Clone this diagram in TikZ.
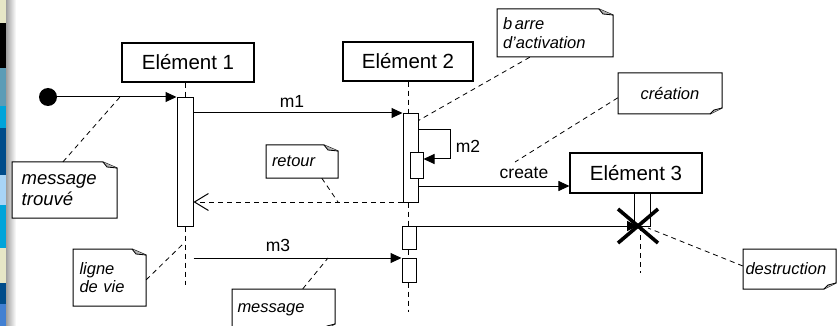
\documentclass[tikz,border=0pt]{standalone}
\usepackage{fontspec}
\setmainfont{Liberation Sans}
\usetikzlibrary{arrows.meta}
\definecolor{bbeige}{HTML}{E6E6C6}
\definecolor{bsteel}{HTML}{5C9CB6}
\definecolor{bcyan}{HTML}{00A4DA}
\definecolor{bdark}{HTML}{004C8A}
\definecolor{blight}{HTML}{A8D4F6}
\definecolor{bblue}{HTML}{4280D2}
\tikzset{
  elem/.style={draw, line width=1.1pt, fill=white, minimum width=#1, minimum height=39pt, inner sep=0pt, font=\fontsize{20.5}{22}\selectfont},
  bar/.style={draw, line width=1pt, fill=white, inner sep=0pt},
  life/.style={dashed, dash pattern=on 5pt off 4pt, line width=0.9pt},
  msg/.style={line width=1pt, -{Triangle[length=11pt,width=10pt]}},
  ret/.style={line width=0.9pt, dash pattern=on 5pt off 4pt, -{Straight Barb[length=14pt,width=17pt,line width=1pt]}},
  lbl/.style={font=\fontsize{17.5}{19}\selectfont, inner sep=0pt},
  note/.style={inner sep=0pt, font=\fontsize{16.5}{18.5}\selectfont\itshape, align=left},
  noteline/.style={dashed, dash pattern=on 5pt off 4pt, line width=0.8pt},
  notebox/.style={line width=1pt, fill=white},
  cross/.style={line width=3.6pt}
}
\newcommand{\notetr}[4]{% x1 y1 x2 y2, fold top right
  \filldraw[notebox] (#1,#2) -- (#3-14,#2) -- (#3,#2+6) -- (#3,#4) -- (#1,#4) -- cycle;
  \fill[gray!60] (#3-14,#2) -- (#3-10,#2+5) -- (#3,#2+6) -- cycle;
  \draw[line width=0.8pt] (#3-14,#2) -- (#3-10,#2+5) -- (#3,#2+6);}
\newcommand{\notebr}[4]{% fold bottom right
  \filldraw[notebox] (#1,#2) -- (#3,#2) -- (#3,#4-6) -- (#3-12,#4) -- (#1,#4) -- cycle;
  \fill[gray!60] (#3,#4-6) -- (#3-8,#4-4) -- (#3-12,#4) -- cycle;
  \draw[line width=0.8pt] (#3,#4-6) -- (#3-8,#4-4) -- (#3-12,#4);}
\begin{document}
\begin{tikzpicture}[x=1pt,y=-1pt]
\useasboundingbox (0,0) rectangle (838,326);
\clip (0,0) rectangle (838,326);
\fill[white] (0,0) rectangle (838,326);
% left slide strip
\fill[bbeige] (0,0) rectangle (6,23);
\fill[black] (0,23) rectangle (6,68);
\fill[bsteel] (0,68) rectangle (6,106);
\fill[bcyan] (0,106) rectangle (6,128);
\fill[bdark] (0,128) rectangle (6,175);
\fill[blight] (0,175) rectangle (6,205);
\fill[bcyan] (0,205) rectangle (6,248);
\fill[bbeige] (0,248) rectangle (6,283);
\fill[bdark] (0,283) rectangle (6,304);
\fill[bblue] (0,304) rectangle (6,326);
\shade[left color=gray!75, right color=white] (6,0) rectangle (16,326);

% notes (boxes)
\notetr{12}{162}{117}{218}
\notetr{73}{249}{146}{306}
\notetr{266}{145}{338}{178}
\notetr{497}{9}{613}{57}
\notebr{618}{73}{722}{114}
\notebr{743}{249}{836}{289}
\notebr{232}{289}{335}{330}
\node[note, anchor=west, font=\fontsize{18.5}{20.5}\selectfont\itshape, minimum width=105pt, minimum height=56pt, text width=86pt] (nt) at (12,190) {message\\trouvé};
\node[note, minimum width=73pt, minimum height=57pt, text width=60pt] (nl) at (109.5,277.5) {ligne\\de vie};
\node[note, minimum width=72pt, minimum height=33pt, text width=60pt] (nr) at (302,161.5) {retour};
\node[note, minimum width=116pt, minimum height=48pt, text width=104pt] (nb) at (555,33) {b\,arre\\d’activation};
\node[note, minimum width=104pt, minimum height=41pt, align=center] (nc) at (670,93.5) {création};
\node[note, minimum width=93pt, minimum height=40pt, text width=88pt] (nd) at (789.5,269) {destruction};
\node[note, minimum width=103pt, minimum height=41pt, text width=92pt] (nm) at (283.5,309.5) {message};

% elements
\node[elem=132pt] (e1) at (188,62.5) {Elément 1};
\node[elem=130pt] (e2) at (408,61.5) {Elément 2};
\node[elem=132pt, minimum height=40pt] (e3) at (636,173) {Elément 3};

% activation bars
\node[bar, minimum width=16pt, minimum height=128pt] (a1) at (185,162) {};
\node[bar, minimum width=15pt, minimum height=88pt] (a2) at (410.5,158) {};
\node[bar, minimum width=13pt, minimum height=25pt] (a2n) at (416.5,165.5) {};
\node[bar, minimum width=14pt, minimum height=23pt] (a2b) at (409,237.5) {};
\node[bar, minimum width=14pt, minimum height=24pt] (a2c) at (409,270) {};
\node[bar, minimum width=16pt, minimum height=33pt] (a3) at (642,209.5) {};

% lifelines
\coordinate (l1end) at (185,285);
\coordinate (l2end) at (408,312);
\coordinate (l3end) at (640,273);
\coordinate (x3) at (638,226);
\draw[life] (e1.south -| a1.north) -- (a1.north);
\draw[life] (a1.south) -- (l1end);
\draw[life] (e2.south) -- (e2.south |- a2.north);
\draw[life] (e2.south |- a2.south) -- (e2.south |- a2b.north);
\draw[life] (e2.south |- a2b.south) -- (e2.south |- a2c.north);
\draw[life] (e2.south |- a2c.south) -- (l2end);
\draw[life] (l3end |- x3) -- (l3end);

% found message
\node[circle, fill=black, minimum size=18pt, inner sep=0pt] (found) at (48,97) {};
\draw[msg] (found.east) -- (found -| a1.west);

% messages
\coordinate (m1y) at (0,113);
\coordinate (m2y) at (0,130);
\coordinate (m2b) at (0,159);
\coordinate (cry) at (0,186);
\coordinate (rty) at (0,202);
\coordinate (dsy) at (0,226);
\coordinate (m3y) at (0,258);
\draw[msg] (a1.east |- m1y) -- (a2.west |- m1y);
\draw[msg] (a2.east |- m2y) -- (450,130) -- (450,159) -- (a2n.east |- m2b);
\draw[msg] (a2.east |- cry) -- (e3.west |- cry);
\draw[ret] (a2.west |- rty) -- (a1.east |- rty);
\draw[msg] (a2b.east |- dsy) -- (x3);
\draw[msg] (a1.east |- m3y) -- (a2c.west |- m3y);

\node[lbl] (lm1) at (292,101) {m1};
\node[lbl] (lm2) at (468,146) {m2};
\node[lbl] (lcr) at (524,173) {create};
\node[lbl] (lm3) at (278,245) {m3};

% destruction cross
\draw[cross] (618,209) -- (658,243);
\draw[cross] (658,209) -- (618,243);

% note connectors
\coordinate (cfound) at (120,97);
\coordinate (clife) at (184,243);
\coordinate (cret) at (338,202);
\coordinate (ccre) at (515,162);
\coordinate (cm3) at (328,258);
\coordinate (cdes) at (648,228);
\draw[noteline] ([xshift=51pt]nt.north west) -- (cfound);
\draw[noteline] ([yshift=-31pt]nl.north east) -- (clife);
\draw[noteline] ([xshift=56pt]nr.south west) -- (cret);
\draw[noteline] ([xshift=33pt]nb.south west) -- ([yshift=-7pt]a2.north east);
\draw[noteline] ([yshift=-25pt]nc.north west) -- (ccre);
\draw[noteline] ([yshift=3pt]nd.west) -- (cdes);
\draw[noteline] ([xshift=71pt]nm.north west) -- (cm3);
\end{tikzpicture}
\end{document}
